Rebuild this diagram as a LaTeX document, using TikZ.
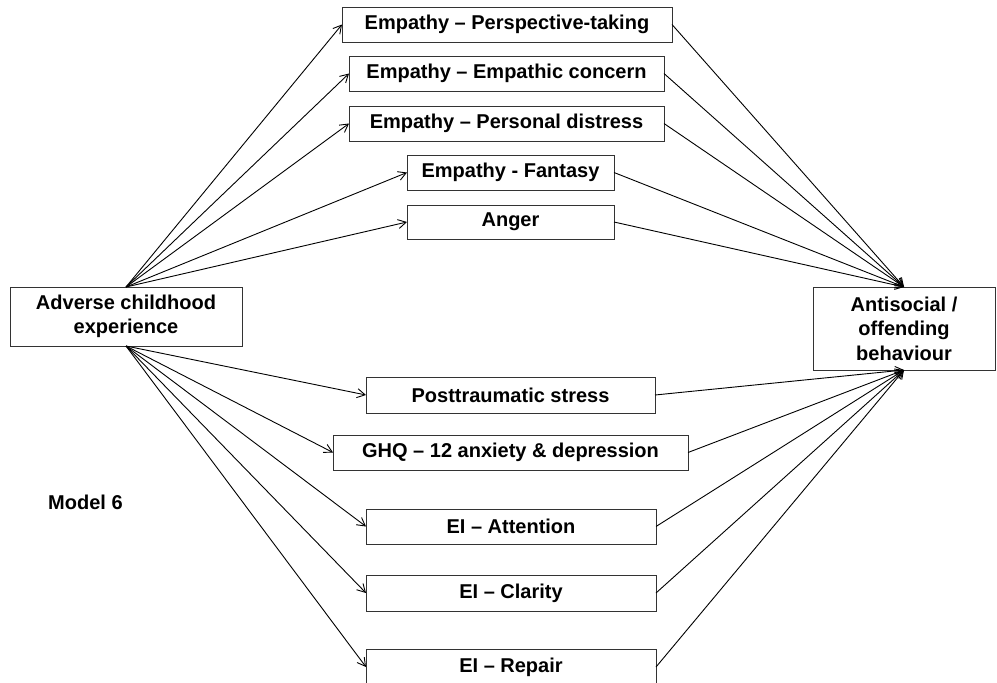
\documentclass[tikz,border=0pt]{standalone}
\usepackage{fontspec}
\setmainfont{Liberation Sans}
\usetikzlibrary{arrows.meta}

\tikzset{
  box/.style={draw=black!80, line width=0.9pt, rectangle, inner sep=0pt, outer sep=0pt,
    font=\fontsize{20}{24.5}\selectfont\bfseries, align=center},
  arr/.style={draw=black, line width=0.9pt, -{Straight Barb[length=8pt,width=9pt]}},
  lbl/.style={font=\fontsize{20}{24}\selectfont\bfseries, inner sep=0pt}
}

\begin{document}
\begin{tikzpicture}[x=1pt, y=-1pt]
  \useasboundingbox (0,0) rectangle (997,683);
  \clip (0,0) rectangle (997,683);

  % exposure and outcome
  \node[box, minimum width=232pt, minimum height=59pt] (ace) at (126,316.5) {Adverse childhood\\experience};
  \node[box, minimum width=182pt, minimum height=83pt] (asb) at (904,328.5) {Antisocial /\\offending\\behaviour};

  % upper mediators
  \node[box, minimum width=330pt, minimum height=35pt] (pt)  at (507,24.5)   {Empathy – Perspective-taking};
  \node[box, minimum width=315pt, minimum height=35pt] (ec)  at (506.5,73.5) {Empathy – Empathic concern};
  \node[box, minimum width=315pt, minimum height=35pt] (pd)  at (506.5,123.5){Empathy – Personal distress};
  \node[box, minimum width=207pt, minimum height=35pt] (fan) at (510.5,172.5){Empathy - Fantasy};
  \node[box, minimum width=207pt, minimum height=34pt] (ang) at (510.5,222)  {Anger};

  % lower mediators
  \node[box, minimum width=289pt, minimum height=36pt] (pts) at (510.5,395)  {Posttraumatic stress};
  \node[box, minimum width=355pt, minimum height=35pt] (ghq) at (510.5,452.5){GHQ – 12 anxiety \& depression};
  \node[box, minimum width=290pt, minimum height=35pt] (att) at (511,526.5)  {EI – Attention};
  \node[box, minimum width=290pt, minimum height=36pt] (cla) at (511,593)    {EI – Clarity};
  \node[box, minimum width=290pt, minimum height=36pt] (rep) at (511,667)    {EI – Repair};

  \node[lbl, anchor=base west] (model) at (48,509) {Model 6};

  % paths through the upper mediators
  \foreach \m in {pt,ec,pd,fan,ang}{
    \draw[arr] (ace.north) -- (\m.west);
    \draw[arr] (\m.east) -- (asb.north);
  }
  % paths through the lower mediators
  \foreach \m in {pts,ghq,att,cla,rep}{
    \draw[arr] (ace.south) -- (\m.west);
    \draw[arr] (\m.east) -- (asb.south);
  }
\end{tikzpicture}
\end{document}
